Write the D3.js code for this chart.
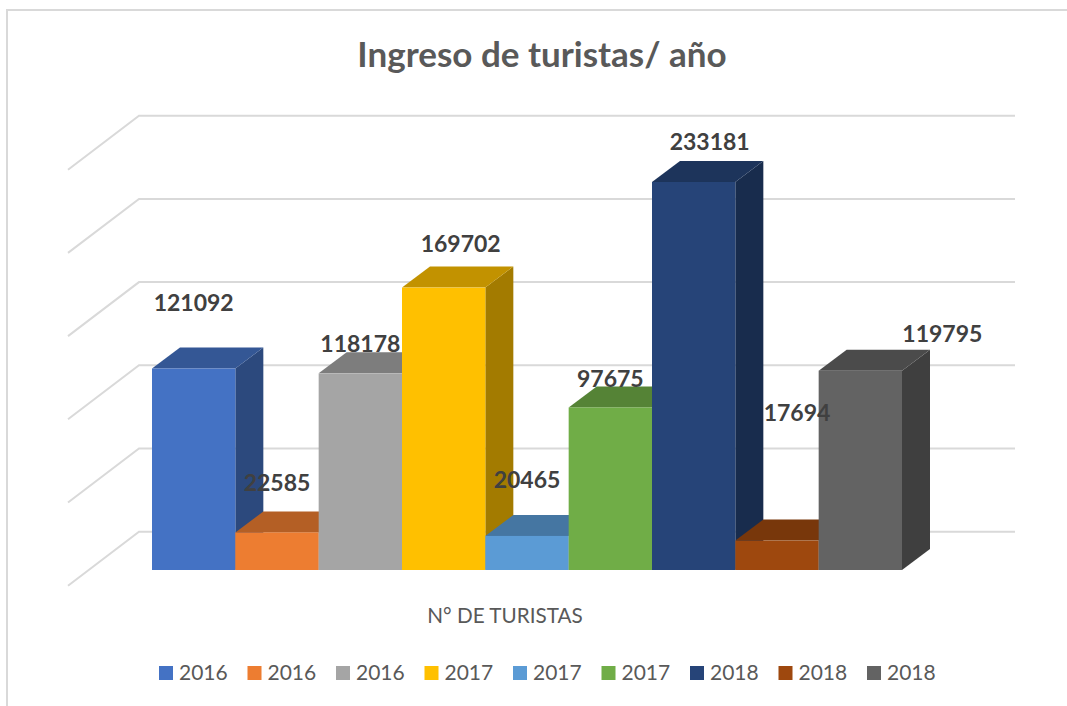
<!DOCTYPE html>
<html>
<head>
<meta charset="utf-8">
<title>Ingreso de turistas/ año</title>
<script src="https://d3js.org/d3.v7.min.js"></script>
<style>
    html, body { margin: 0; padding: 0; background: #fff; }
    svg { display: block; font-family: Lato, "Open Sans", sans-serif; }
</style>
</head>
<body>
<div id="chart"></div>
<script>
// data
var years = ["2016", "2016", "2016", "2017", "2017", "2017", "2018", "2018", "2018"];
var tourists = [121092, 22585, 118178, 169702, 20465, 97675, 233181, 17694, 119795];
var barColors = ["#4472C4", "#ED7D31", "#A5A5A5", "#FFC000", "#5B9BD5", "#70AD47", "#264478", "#9E480E", "#636363"];
var gridTicks = [0, 50000, 100000, 150000, 200000, 250000];

(function() {
    'use strict';

    var width = 1067;
    var height = 706;

    // 3d look: bars sit in the middle of the floor, walls go further back
    var barDepth = { x: 28, y: 21 };
    var wall = { left: 68, back: 139, right: 1015, drop: 38.3, rise: 54 };

    // data labels were dragged around by hand in the original chart
    var labelNudge = [[0, -58], [0, -41], [0, -21], [17, -36], [0, -48], [0, -20], [16, -32], [20, -120], [82, -29]];

    var indexes = d3.range(tourists.length);

    var x = d3.scaleBand().domain(indexes).range([152, 902]);
    var y = d3.scaleLinear().domain([0, 250000]).range([570, 154]);

    var svg = d3.select("#chart").append("svg")
        .attr("width", width)
        .attr("height", height);

    // chart frame, only top and left edges are in the crop
    svg.append("path")
        .attr("d", "M7,706V10H1067")
        .attr("fill", "none")
        .attr("stroke", "#D9D9D9")
        .attr("stroke-width", 2);

    svg.append("text")
        .attr("x", 542)
        .attr("y", 67)
        .attr("text-anchor", "middle")
        .attr("font-size", 35)
        .attr("font-weight", 700)
        .attr("fill", "#595959")
        .text("Ingreso de turistas/ año");

    // gridlines: side wall then back wall
    svg.append("g").selectAll("path")
        .data(gridTicks).enter()
        .append("path")
        .attr("d", function(t) {
            var by = y(t) - wall.drop;
            return "M" + wall.left + "," + (by + wall.rise) + "L" + wall.back + "," + by + "H" + wall.right;
        })
        .attr("fill", "none")
        .attr("stroke", "#D9D9D9")
        .attr("stroke-width", 2);

    function shade(color, k) {
        var c = d3.rgb(color);
        return d3.rgb(c.r * k, c.g * k, c.b * k).formatHex();
    }

    var bars = svg.append("g").selectAll("g")
        .data(indexes).enter()
        .append("g");

    // side face
    bars.append("path")
        .attr("d", function(i) {
            var x1 = x(i) + x.bandwidth();
            return "M" + x1 + "," + y(tourists[i]) +
                "l" + barDepth.x + "," + (-barDepth.y) +
                "V" + (y(0) - barDepth.y) +
                "L" + x1 + "," + y(0) + "Z";
        })
        .attr("fill", function(i) { return shade(barColors[i], 0.64); });

    // top face
    bars.append("path")
        .attr("d", function(i) {
            var x0 = x(i);
            var top = y(tourists[i]);
            return "M" + x0 + "," + top +
                "l" + barDepth.x + "," + (-barDepth.y) +
                "h" + x.bandwidth() +
                "l" + (-barDepth.x) + "," + barDepth.y + "Z";
        })
        .attr("fill", function(i) { return shade(barColors[i], 0.76); });

    // front face
    bars.append("rect")
        .attr("x", function(i) { return x(i); })
        .attr("y", function(i) { return y(tourists[i]); })
        .attr("width", x.bandwidth())
        .attr("height", function(i) { return y(0) - y(tourists[i]); })
        .attr("fill", function(i) { return barColors[i]; });

    svg.append("g").selectAll("text")
        .data(indexes).enter()
        .append("text")
        .attr("x", function(i) { return x(i) + x.bandwidth() / 2 + labelNudge[i][0]; })
        .attr("y", function(i) { return y(tourists[i]) + labelNudge[i][1]; })
        .attr("text-anchor", "middle")
        .attr("font-size", 23)
        .attr("font-weight", 700)
        .attr("fill", "#404040")
        .text(function(i) { return tourists[i]; });

    svg.append("text")
        .attr("x", 505)
        .attr("y", 623)
        .attr("text-anchor", "middle")
        .attr("font-size", 20.7)
        .attr("fill", "#595959")
        .text("N° DE TURISTAS");

    // legend
    var legendX = d3.scalePoint().domain(indexes).range([159, 867]);

    var legend = svg.append("g").selectAll("g")
        .data(indexes).enter()
        .append("g")
        .attr("transform", function(i) { return "translate(" + legendX(i) + ",666)"; });

    legend.append("rect")
        .attr("width", 14)
        .attr("height", 14)
        .attr("fill", function(i) { return barColors[i]; });

    legend.append("text")
        .attr("x", 20)
        .attr("y", 14)
        .attr("font-size", 21)
        .attr("fill", "#595959")
        .text(function(i) { return years[i]; });
})();
</script>
</body>
</html>
